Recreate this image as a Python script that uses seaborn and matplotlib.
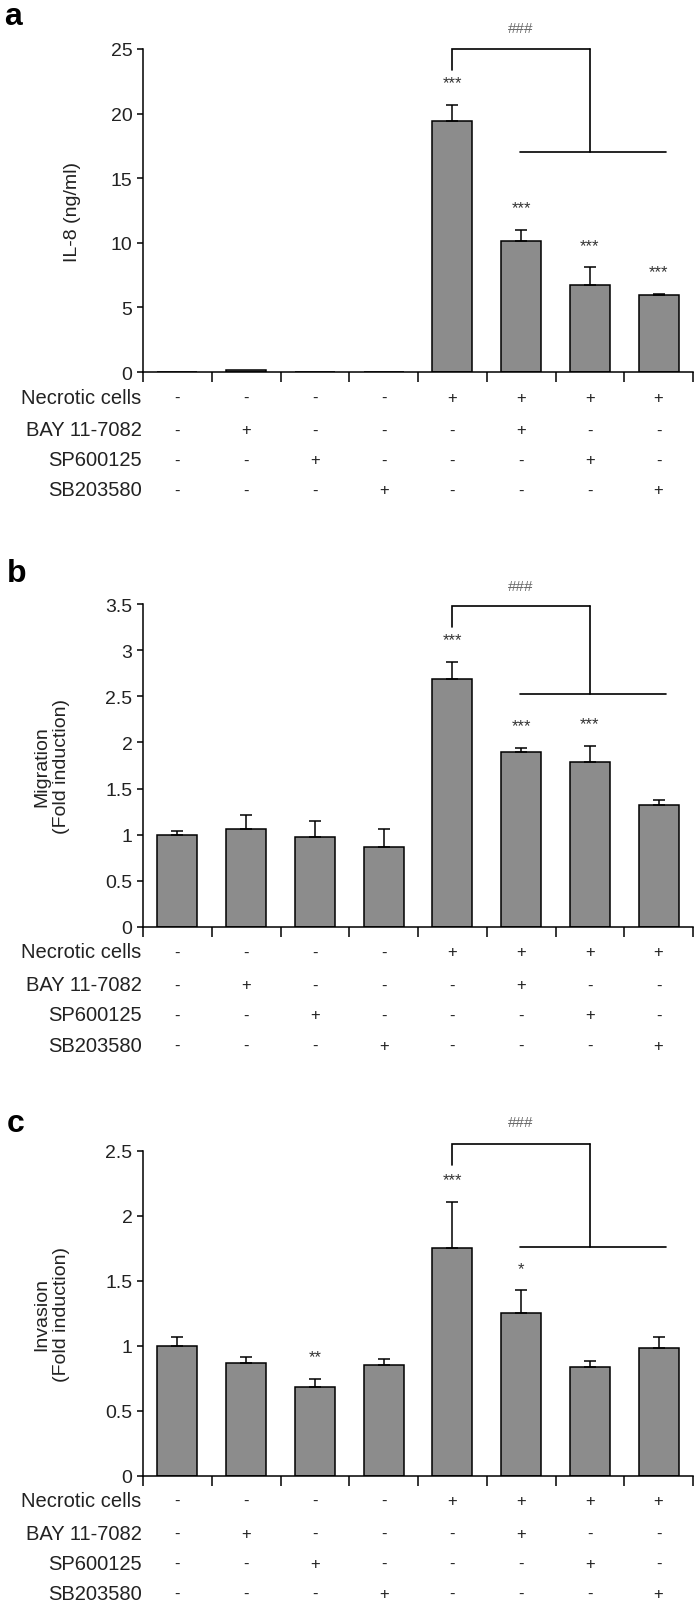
import numpy as np
import pandas as pd
import matplotlib
matplotlib.use("Agg")
import matplotlib.pyplot as plt
import matplotlib.transforms as mtransforms
from matplotlib.ticker import FuncFormatter
import seaborn as sns

# ---------------- data ----------------
groups = ["G1", "G2", "G3", "G4", "G5", "G6", "G7", "G8"]
row_labels = ["Necrotic cells", "BAY 11-7082", "SP600125", "SB203580"]
necrotic = ["-", "-", "-", "-", "+", "+", "+", "+"]
bay = ["-", "+", "-", "-", "-", "+", "-", "-"]
sp = ["-", "-", "+", "-", "-", "-", "+", "-"]
sb = ["-", "-", "-", "+", "-", "-", "-", "+"]

il8_mean = [0, 0.15, 0, 0, 19.45, 10.15, 6.7, 5.95]
il8_err = [0, 0, 0, 0, 1.25, 0.85, 1.4, 0.12]
il8_stars = ["", "", "", "", "***", "***", "***", "***"]

mig_mean = [1.0, 1.06, 0.97, 0.87, 2.69, 1.90, 1.79, 1.32]
mig_err = [0.04, 0.15, 0.18, 0.19, 0.18, 0.04, 0.17, 0.06]
mig_stars = ["", "", "", "", "***", "***", "***", ""]

inv_mean = [1.0, 0.865, 0.68, 0.85, 1.755, 1.255, 0.835, 0.985]
inv_err = [0.065, 0.045, 0.065, 0.045, 0.35, 0.17, 0.045, 0.08]
inv_stars = ["", "", "**", "", "***", "*", "", ""]

# bracket annotations (value levels)
a_bracket = dict(top=25.0, left_end=23.4, low=17.05, hash_y=26.6)
b_bracket = dict(top=3.48, left_end=3.25, low=2.52, hash_y=3.70)
c_bracket = dict(top=2.55, left_end=2.39, low=1.76, hash_y=2.72)

panels = [
    dict(letter="a", mean=il8_mean, err=il8_err, stars=il8_stars, ylabel="IL-8 (ng/ml)",
         ymax=25, ystep=5, br=a_bracket),
    dict(letter="b", mean=mig_mean, err=mig_err, stars=mig_stars,
         ylabel="Migration\n(Fold induction)", ymax=3.5, ystep=0.5, br=b_bracket),
    dict(letter="c", mean=inv_mean, err=inv_err, stars=inv_stars,
         ylabel="Invasion\n(Fold induction)", ymax=2.5, ystep=0.5, br=c_bracket),
]

# ---------------- style ----------------
sns.set_theme(style="white")
plt.rcParams["font.family"] = ["Liberation Sans", "DejaVu Sans"]

W, H = 700, 1608
fig = plt.figure(figsize=(W / 100, H / 100), dpi=100)

# axes geometry in pixels: (top_px, bottom_px)
axes_px = [(50, 373), (605, 928), (1151.7, 1476.7)]
letter_px = [(4, 25), (7, 582), (7, 1132)]
ylabel_x = [-0.113, -0.133, -0.133]
left_px, right_px = 143, 693

bar_color = "#8c8c8c"
text_color = "#222222"
row_offsets_px = [25, 58, 88, 118]

for i, p in enumerate(panels):
    top, bot = axes_px[i]
    ax = fig.add_axes([left_px / W, 1 - bot / H, (right_px - left_px) / W, (bot - top) / H])
    df = pd.DataFrame({"group": groups, "value": p["mean"]})
    sns.barplot(data=df, x="group", y="value", ax=ax, color=bar_color, saturation=1,
                edgecolor="black", linewidth=1.1, width=0.58, errorbar=None)

    xs = np.arange(len(groups))
    m = np.array(p["mean"], dtype=float)
    e = np.array(p["err"], dtype=float)
    mask = e > 0
    ax.errorbar(xs[mask], m[mask], yerr=[np.zeros(mask.sum()), e[mask]], fmt="none",
                ecolor="black", elinewidth=1.1, capsize=4.5, capthick=1.1, zorder=3)

    # significance stars
    for x, s, mv, ev in zip(xs, p["stars"], m, e):
        if s:
            ax.annotate(s, xy=(x, mv + ev), xytext=(0, 16), textcoords="offset points",
                        ha="center", va="center", fontsize=12, color="#333333",
                        annotation_clip=False)

    # bracket
    br = p["br"]
    lw = 1.2
    ax.plot([4, 4, 6], [br["left_end"], br["top"], br["top"]], color="black", lw=lw,
            clip_on=False, solid_joinstyle="miter")
    ax.plot([6, 6], [br["top"], br["low"]], color="black", lw=lw, clip_on=False)
    ax.plot([4.98, 7.1], [br["low"], br["low"]], color="black", lw=lw, clip_on=False)
    ax.text(5, br["hash_y"], "###", ha="center", va="center", fontsize=11,
            color="#6a6a6a", clip_on=False)

    # axes styling
    ax.set_xlim(-0.5, 7.5)
    ax.set_ylim(0, p["ymax"])
    ax.set_yticks(np.arange(0, p["ymax"] + 1e-9, p["ystep"]))
    ax.yaxis.set_major_formatter(FuncFormatter(lambda v, pos: "%g" % v))
    ax.set_xticks(np.arange(-0.5, 8, 1))
    ax.set_xticklabels([])
    ax.set_xlabel("")
    ax.set_ylabel(p["ylabel"], fontsize=14, color=text_color)
    ax.yaxis.set_label_coords(ylabel_x[i], 0.5)
    for side in ["top", "right"]:
        ax.spines[side].set_visible(False)
    for side in ["left", "bottom"]:
        ax.spines[side].set_color("black")
        ax.spines[side].set_linewidth(1.1)
    ax.tick_params(axis="y", direction="out", length=4.5, width=1.1, color="black",
                   labelsize=14, labelcolor=text_color, pad=3, left=True)
    ax.tick_params(axis="x", direction="out", length=7.5, width=1.1, color="black",
                   bottom=True)

    # condition table below the axis
    rows = [necrotic, bay, sp, sb]
    axh = bot - top
    for r, (lab, signs) in enumerate(zip(row_labels, rows)):
        yfrac = -row_offsets_px[r] / axh
        ax.text(-1.5 / (right_px - left_px), yfrac, lab, transform=ax.transAxes,
                ha="right", va="center", fontsize=14.5, color=text_color)
        trans = mtransforms.blended_transform_factory(ax.transData, ax.transAxes)
        for x, s in zip(xs, signs):
            ax.text(x, yfrac, s, transform=trans, ha="center", va="center",
                    fontsize=12, color=text_color)

    lx, ly = letter_px[i]
    fig.text(lx / W, 1 - ly / H, p["letter"], ha="left", va="baseline",
             fontsize=23, fontweight="bold", color="black")

fig.savefig("out.png", dpi=100)
